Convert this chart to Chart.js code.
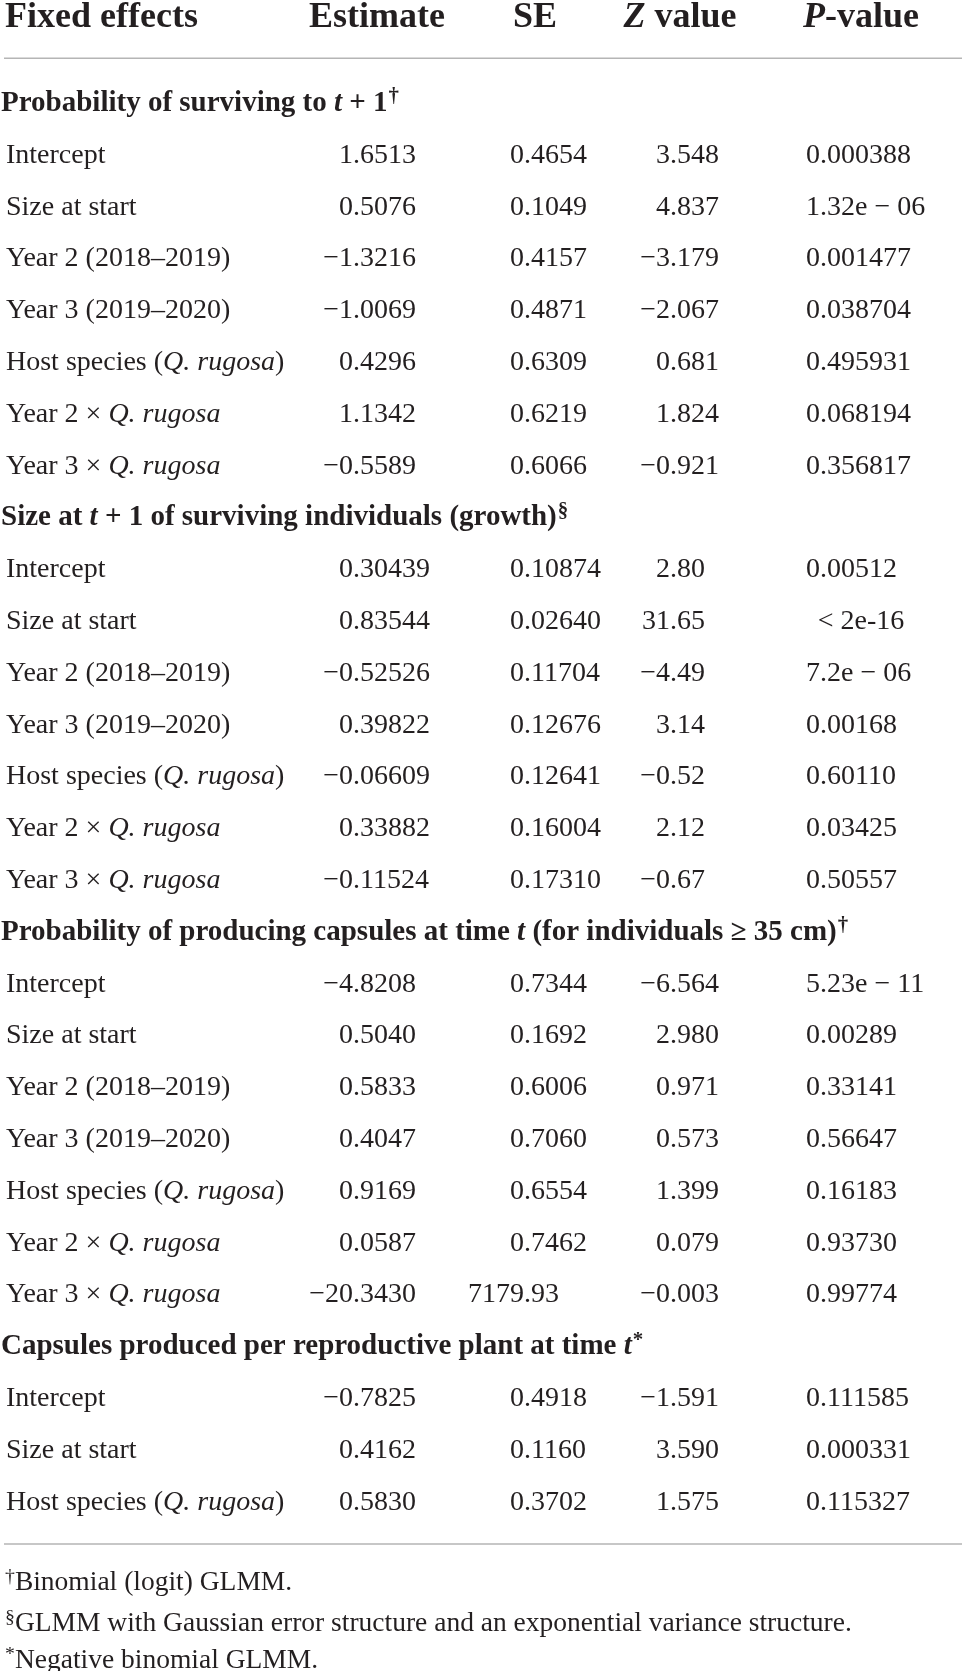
<!DOCTYPE html>
<html>
<head>
<meta charset="utf-8">
<script src="https://cdn.jsdelivr.net/npm/chart.js@4/dist/chart.umd.min.js"></script>
<style>
  html, body { margin: 0; padding: 0; background: #ffffff; }
  #wrap { width: 962px; height: 1671px; }
</style>
</head>
<body>
<div id="wrap"><canvas id="c" width="962" height="1671"></canvas></div>
<script>
// ---------- DATA (markup: _italic_, ^superscript^) ----------
const headers = ["Fixed effects", "Estimate", "SE", "_Z_ value", "_P_-value"];

const groups = [
  "Probability of surviving to _t_ + 1^†^",
  "Size at _t_ + 1 of surviving individuals (growth)^§^",
  "Probability of producing capsules at time _t_ (for individuals ≥ 35 cm)^†^",
  "Capsules produced per reproductive plant at time _t_^*^"
];
const groupSizes = [7, 7, 7, 3];

const terms = [
  "Intercept", "Size at start", "Year 2 (2018–2019)", "Year 3 (2019–2020)", "Host species (_Q. rugosa_)", "Year 2 × _Q. rugosa_", "Year 3 × _Q. rugosa_",
  "Intercept", "Size at start", "Year 2 (2018–2019)", "Year 3 (2019–2020)", "Host species (_Q. rugosa_)", "Year 2 × _Q. rugosa_", "Year 3 × _Q. rugosa_",
  "Intercept", "Size at start", "Year 2 (2018–2019)", "Year 3 (2019–2020)", "Host species (_Q. rugosa_)", "Year 2 × _Q. rugosa_", "Year 3 × _Q. rugosa_",
  "Intercept", "Size at start", "Host species (_Q. rugosa_)"
];

const estimates = [
  "1.6513", "0.5076", "−1.3216", "−1.0069", "0.4296", "1.1342", "−0.5589",
  "0.30439", "0.83544", "−0.52526", "0.39822", "−0.06609", "0.33882", "−0.11524",
  "−4.8208", "0.5040", "0.5833", "0.4047", "0.9169", "0.0587", "−20.3430",
  "−0.7825", "0.4162", "0.5830"
];
const standardErrors = [
  "0.4654", "0.1049", "0.4157", "0.4871", "0.6309", "0.6219", "0.6066",
  "0.10874", "0.02640", "0.11704", "0.12676", "0.12641", "0.16004", "0.17310",
  "0.7344", "0.1692", "0.6006", "0.7060", "0.6554", "0.7462", "7179.93",
  "0.4918", "0.1160", "0.3702"
];
const zValues = [
  "3.548", "4.837", "−3.179", "−2.067", "0.681", "1.824", "−0.921",
  "2.80", "31.65", "−4.49", "3.14", "−0.52", "2.12", "−0.67",
  "−6.564", "2.980", "0.971", "0.573", "1.399", "0.079", "−0.003",
  "−1.591", "3.590", "1.575"
];
const pValues = [
  "0.000388", "1.32e − 06", "0.001477", "0.038704", "0.495931", "0.068194", "0.356817",
  "0.00512", "< 2e-16", "7.2e − 06", "0.00168", "0.60110", "0.03425", "0.50557",
  "5.23e − 11", "0.00289", "0.33141", "0.56647", "0.16183", "0.93730", "0.99774",
  "0.111585", "0.000331", "0.115327"
];
const footnotes = [
  "^†^Binomial (logit) GLMM.",
  "^§^GLMM with Gaussian error structure and an exponential variance structure.",
  "^*^Negative binomial GLMM."
];

// ---------- LAYOUT / STYLE ----------
const FONT = '"Liberation Serif", "Times New Roman", serif';
const INK = '#231f20';
const RULE = '#b5b5b5';
const ROW_PX = 51.8;            // pixels per row unit
const FIRST_BASE = 111;         // pixel baseline of row 0
const Y_MIN = -FIRST_BASE / ROW_PX;
const Y_MAX = Y_MIN + 1671 / ROW_PX;

const headerRowY = -1.62;
const topRuleY = -1.017;
const bottomRuleY = 27.664;
const footRowY = [28.55, 29.34, 30.06];

const colHeaderX = [5, 377, 535, 680, 861];   // first left aligned, rest centered
const labelX = 6, groupX = 1;
const decimalX = { est: 353, se: 524, z: 670, p: 806 };
const pNoDotCenter = 861;

const SIZE_HEAD = 36, SIZE_GROUP = 29, SIZE_BODY = 28, SIZE_FOOT = 27.5;

// ---------- rich text helpers ----------
function parseRich(s) {
  const segs = []; let it = false, sup = false, buf = '';
  for (const ch of s) {
    if (ch === '_') { if (buf) segs.push({ t: buf, it, sup }); buf = ''; it = !it; }
    else if (ch === '^') { if (buf) segs.push({ t: buf, it, sup }); buf = ''; sup = !sup; }
    else buf += ch;
  }
  if (buf) segs.push({ t: buf, it, sup });
  return segs;
}
function segFont(seg, size, bold) {
  const sz = seg.sup ? size * 0.72 : size;
  return (seg.it ? 'italic ' : '') + (bold ? 'bold ' : '') + sz + 'px ' + FONT;
}
function richWidth(ctx, s, size, bold) {
  let w = 0;
  for (const seg of parseRich(s)) { ctx.font = segFont(seg, size, bold); w += ctx.measureText(seg.t).width + (seg.sup ? 1 : 0); }
  return w;
}
function drawRich(ctx, s, x, y, size, bold, align) {
  const w = richWidth(ctx, s, size, bold);
  let cx = x;
  if (align === 'center') cx = x - w / 2;
  else if (align === 'right') cx = x - w;
  ctx.textAlign = 'left';
  ctx.textBaseline = 'alphabetic';
  ctx.fillStyle = INK;
  for (const seg of parseRich(s)) {
    ctx.font = segFont(seg, size, bold);
    const dy = seg.sup ? -size * 0.30 : 0;
    ctx.fillText(seg.t, cx + (seg.sup ? 1 : 0), y + dy);
    cx += ctx.measureText(seg.t).width + (seg.sup ? 1 : 0);
  }
}
function drawDecimal(ctx, s, xDec, y, size) {
  ctx.font = size + 'px ' + FONT;
  ctx.fillStyle = INK;
  ctx.textBaseline = 'alphabetic';
  const i = s.indexOf('.');
  const intPart = s.slice(0, i), rest = s.slice(i);
  ctx.textAlign = 'right'; ctx.fillText(intPart, xDec, y);
  ctx.textAlign = 'left'; ctx.fillText(rest, xDec, y);
}

// ---------- table plugin ----------
const tablePlugin = {
  id: 'tableText',
  afterDatasetsDraw(chart) {
    const ctx = chart.ctx;
    const xs = chart.scales.x, ys = chart.scales.y;
    const X = v => xs.getPixelForValue(v), Y = v => ys.getPixelForValue(v);
    ctx.save();
    headers.forEach((h, k) => {
      drawRich(ctx, h, X(colHeaderX[k]), Y(headerRowY), SIZE_HEAD, true, k === 0 ? 'left' : 'center');
    });
    let row = 0, t = 0;
    groups.forEach((g, gi) => {
      drawRich(ctx, g, X(groupX), Y(row), SIZE_GROUP, true, 'left');
      row++;
      for (let k = 0; k < groupSizes[gi]; k++, t++, row++) {
        const y = Y(row);
        drawRich(ctx, terms[t], X(labelX), y, SIZE_BODY, false, 'left');
        drawDecimal(ctx, estimates[t], X(decimalX.est), y, SIZE_BODY);
        drawDecimal(ctx, standardErrors[t], X(decimalX.se), y, SIZE_BODY);
        drawDecimal(ctx, zValues[t], X(decimalX.z), y, SIZE_BODY);
        const p = pValues[t];
        if (p.indexOf('.') >= 0) {
          ctx.font = SIZE_BODY + 'px ' + FONT;
          const zw = ctx.measureText('0').width;
          drawDecimal(ctx, p, X(decimalX.p) + zw, y, SIZE_BODY);
        } else {
          drawRich(ctx, p, X(pNoDotCenter), y, SIZE_BODY, false, 'center');
        }
      }
    });
    footnotes.forEach((f, k) => drawRich(ctx, f, X(4), Y(footRowY[k]), SIZE_FOOT, false, 'left'));
    ctx.restore();
  }
};

const ruleLine = yv => ({
  data: [{ x: 4, y: yv }, { x: 962, y: yv }],
  borderColor: RULE, borderWidth: 1.5, pointRadius: 0, fill: false, clip: false
});

new Chart(document.getElementById('c'), {
  type: 'line',
  data: { datasets: [ruleLine(topRuleY), ruleLine(bottomRuleY)] },
  options: {
    responsive: false,
    animation: false,
    devicePixelRatio: 1,
    layout: { padding: 0 },
    plugins: { legend: { display: false }, tooltip: { enabled: false }, title: { display: false } },
    scales: {
      x: { type: 'linear', display: false, min: 0, max: 962 },
      y: { type: 'linear', display: false, min: Y_MIN, max: Y_MAX, reverse: true }
    }
  },
  plugins: [tablePlugin]
});
</script>
</body>
</html>
